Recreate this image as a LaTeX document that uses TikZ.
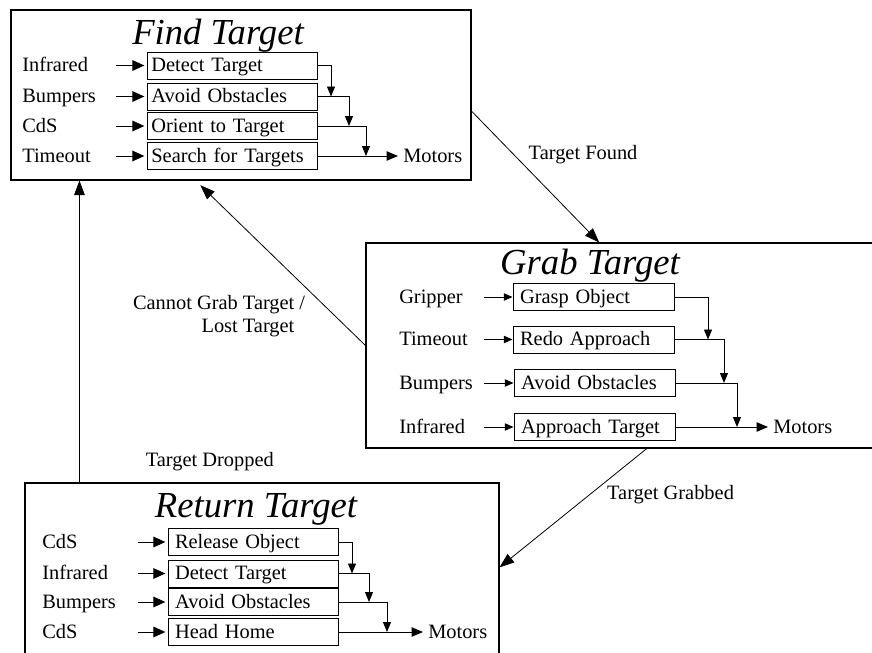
\documentclass[tikz,border=0pt]{standalone}
\usepackage{fontspec}
\setmainfont{Liberation Serif}
\usetikzlibrary{arrows.meta,positioning,calc}
\newcommand{\bodyfont}{\fontsize{15.3}{17}\selectfont}
\newcommand{\titlefont}{\fontsize{27.5}{30}\selectfont\itshape}
\tikzset{
  statebox/.style={draw=black, line width=0.8pt, inner sep=0pt},
  title/.style={font=\titlefont, inner sep=0pt, text height=19pt, text depth=2pt},
  sensor/.style={anchor=west, inner sep=0pt, text width=#1, align=left,
    text height=11pt, text depth=2pt, font=\bodyfont},
  behav/.style={draw=black, line width=0.6pt, anchor=west, inner ysep=0pt,
    inner xsep=3pt, text width=#1, align=left, minimum height=20.25pt,
    text height=11pt, text depth=2pt, font=\bodyfont},
  motor/.style={anchor=west, inner xsep=3.75pt, inner ysep=0pt,
    text height=11pt, text depth=2pt, font=\bodyfont},
  lbl/.style={inner sep=0pt, font=\bodyfont},
  inarr/.style={-{Triangle[length=9pt, width=8pt]}, line width=0.7pt,
    shorten >=2pt},
  inarrs/.style={-{Triangle[length=6.5pt, width=5.5pt]}, line width=0.7pt},
  casc/.style={-{Triangle[length=7.5pt, width=6pt]}, line width=0.7pt},
  outarr/.style={-{Triangle[length=8.5pt, width=7pt]}, line width=0.7pt},
  trans/.style={-{Triangle[length=11pt, width=8pt]}, line width=0.6pt}
}

\begin{document}
\begin{tikzpicture}[x=0.75pt, y=-0.75pt]
  \clip (0,0) rectangle (872,653);

  % find target
  \node[statebox, minimum width=345pt, minimum height=127.5pt] (find) at (241,95) {};
  \node[title] (findT) at (218,33) {Find Target};
  \node[sensor=69.75pt] (fs1) at (22,65.5) {Infrared};
  \node[sensor=69.75pt] (fs2) at (22,96.5) {Bumpers};
  \node[sensor=69.75pt] (fs3) at (22,126) {CdS};
  \node[sensor=69.75pt] (fs4) at (22,156) {Timeout};
  \node[behav=121.5pt] (fb1) at (147,65.5) {Detect Target};
  \node[behav=121.5pt] (fb2) at (147,96.5) {Avoid Obstacles};
  \node[behav=121.5pt] (fb3) at (147,126) {Orient to Target};
  \node[behav=121.5pt] (fb4) at (147,156) {Search for Targets};
  \node[motor] (fmot) at (398,156) {Motors};
  \foreach \i in {1,...,4} \draw[inarr] (fs\i.east) -- (fb\i.west);
  \coordinate (fj1) at (331,96.5);
  \coordinate (fj2) at (349,126);
  \coordinate (fj3) at (366,156);
  \draw[casc] (fb1.east) -| (fj1);
  \draw[casc] (fb2.east) -| (fj2);
  \draw[casc] (fb3.east) -| (fj3);
  \draw[outarr] (fb4.east) -- (fmot.west);

  % grab target
  \node[statebox, minimum width=385.5pt, minimum height=153.75pt] (grab) at (623,345.5) {};
  \node[title] (grabT) at (590,263) {Grab Target};
  \node[sensor=63pt] (gs1) at (399,297) {Gripper};
  \node[sensor=63pt] (gs2) at (399,339.5) {Timeout};
  \node[sensor=63pt] (gs3) at (399,383) {Bumpers};
  \node[sensor=63pt] (gs4) at (399,427) {Infrared};
  \node[behav=110pt, inner xsep=5.4pt] (gb1) at (512.5,297) {Grasp Object};
  \node[behav=110pt, inner xsep=5.4pt] (gb2) at (512.5,339.5) {Redo Approach};
  \node[behav=110pt, inner xsep=5.4pt] (gb3) at (513.5,383) {Avoid Obstacles};
  \node[behav=110pt, inner xsep=5.4pt] (gb4) at (513.5,427) {Approach Target};
  \node[motor] (gmot) at (768,427) {Motors};
  \foreach \i in {1,...,4} \draw[inarrs] (gs\i.east) -- (gb\i.west);
  \coordinate (gj1) at (708,339.5);
  \coordinate (gj2) at (724,383);
  \coordinate (gj3) at (737,427);
  \draw[casc] (gb1.east) -| (gj1);
  \draw[casc] (gb2.east) -| (gj2);
  \draw[casc] (gb3.east) -| (gj3);
  \draw[outarr] (gb4.east) -- (gmot.west);

  % return target
  \node[statebox, minimum width=355.5pt, minimum height=132.75pt] (ret) at (262,571.5) {};
  \node[title] (retT) at (256,506) {Return Target};
  \node[sensor=71.25pt] (rs1) at (42,542) {CdS};
  \node[sensor=71.25pt] (rs2) at (42,573.5) {Infrared};
  \node[sensor=71.25pt] (rs3) at (42,602) {Bumpers};
  \node[sensor=71.25pt] (rs4) at (42,632) {CdS};
  \node[behav=117.5pt, inner xsep=5pt] (rb1) at (168,542) {Release Object};
  \node[behav=117.5pt, inner xsep=5pt] (rb2) at (168,573.5) {Detect Target};
  \node[behav=117.5pt, inner xsep=5pt] (rb3) at (168,602) {Avoid Obstacles};
  \node[behav=117.5pt, inner xsep=5pt] (rb4) at (168,632) {Head Home};
  \node[motor] (rmot) at (423,632) {Motors};
  \foreach \i in {1,...,4} \draw[inarr] (rs\i.east) -- (rb\i.west);
  \coordinate (rj1) at (352,573.5);
  \coordinate (rj2) at (369,602);
  \coordinate (rj3) at (387,632);
  \draw[casc] (rb1.east) -| (rj1);
  \draw[casc] (rb2.east) -| (rj2);
  \draw[casc] (rb3.east) -| (rj3);
  \draw[outarr] (rb4.east) -- (rmot.west);

  % transitions
  \draw[trans] (find.-4.5) -- node[lbl, pos=0.33, right=11pt] {Target Found} (grab.103.7);
  \draw[trans, shorten >=5pt] (grab.west) -- node[lbl, pos=0.18, left=22pt, align=right]
    {Cannot Grab Target /\\Lost Target\phantom{~/}} (find.-118);
  \draw[trans] (ret.154.4) -- node[lbl, pos=0.07, right=49.5pt] {Target Dropped} (ret.154.4 |- find.south);
  \draw[trans] (grab.-77.9) -- node[lbl, pos=0.385, right=12.5pt] {Target Grabbed} (ret.1.6);
\end{tikzpicture}
\end{document}
